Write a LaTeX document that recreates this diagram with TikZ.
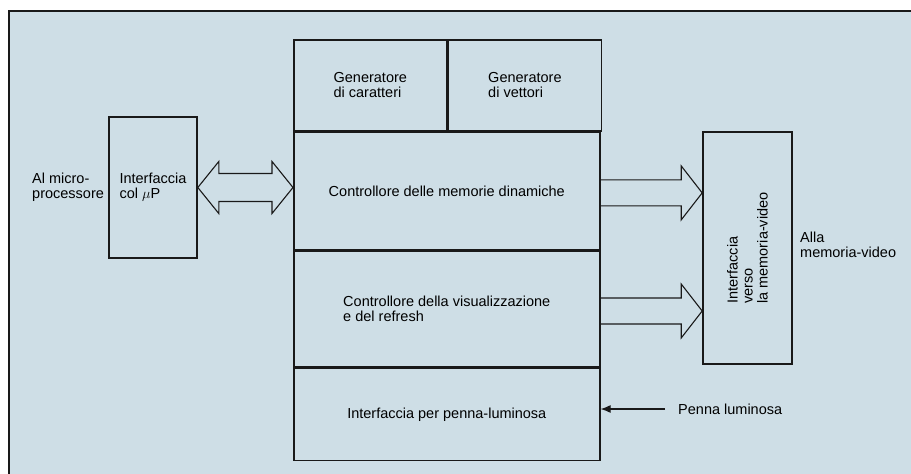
\documentclass[tikz,border=0pt]{standalone}
\usepackage{fontspec}
\setmainfont{Liberation Sans}
\usepackage{tikz}
\usetikzlibrary{arrows.meta,calc,positioning}
\definecolor{panel}{RGB}{206,222,230}
\definecolor{ink}{RGB}{25,25,25}

\begin{document}
\begin{tikzpicture}[x=1pt,y=-1pt,
    font=\fontsize{14.5pt}{15pt}\selectfont,
    blk/.style={draw=ink,line width=1.6pt,inner sep=0pt,align=left},
    bus/.style={draw=ink,line width=1.1pt,line join=miter},
    lbl/.style={inner sep=0pt,align=left,anchor=west}]
  \useasboundingbox (0,0) rectangle (911,474);
  % sfondo e cornice
  \fill[panel] (9,11) rectangle (911,474);
  \draw[ink,line width=1.5pt] (9,474) -- (9,11) -- (911,11);
  % blocco centrale
  \node[blk,minimum width=153,minimum height=91,anchor=north west]
    (gencar) at (293,39) {Generatore\\di caratteri};
  \node[blk,minimum width=153,minimum height=91,anchor=north west]
    (genvet) at (gencar.north east) {Generatore\\di vettori};
  \node[blk,minimum width=306,minimum height=117,anchor=north west]
    (ctrlmem) at (gencar.south west) {Controllore delle memorie dinamiche};
  \node[blk,minimum width=306,minimum height=116,anchor=north west]
    (ctrlvis) at (ctrlmem.south west) {Controllore della visualizzazione\\e del refresh};
  \node[blk,minimum width=306,minimum height=92,anchor=north west]
    (penif) at (ctrlvis.south west) {Interfaccia per penna-luminosa};
  % interfacce laterali
  \node[blk,minimum width=88,minimum height=141] (upif) at (153,187.5)
    {Interfaccia\\col $\mu$P};
  \node[blk,minimum width=89,minimum height=232] (vidif) at (747.5,248) {};
  \node[rotate=90,align=left,inner sep=0pt] at (vidif.center)
    {Interfaccia\\verso\\la memoria-video};
  % etichette esterne
  \node[lbl] (micro) at (32,187) {Al micro-\\processore};
  \node[lbl] (alla) at (800,245) {Alla\\memoria-video};
  \node[lbl,inner xsep=13pt] (penna) at (665,409) {Penna luminosa};
  % bus bidirezionale col microprocessore
  \coordinate (bl) at (upif.east);
  \coordinate (br) at (upif.east -| ctrlmem.west);
  \draw[bus] (bl) -- ($(bl)+(21,-26)$) -- ($(bl)+(21,-14)$)
    -- ($(br)+(-21,-14)$) -- ($(br)+(-21,-26)$) -- (br)
    -- ($(br)+(-21,26)$) -- ($(br)+(-21,14)$)
    -- ($(bl)+(21,14)$) -- ($(bl)+(21,26)$) -- cycle;
  % bus verso la memoria-video
  \foreach \src in {ctrlmem,ctrlvis} {
    \coordinate (s) at ($(\src.east)+(0,2)$);
    \coordinate (t) at (s -| vidif.west);
    \draw[bus] ($(s)+(0,-13)$) -- ($(t)+(-21,-13)$) -- ($(t)+(-21,-27)$)
      -- (t) -- ($(t)+(-21,27)$) -- ($(t)+(-21,13)$) -- ($(s)+(0,13)$);
  }
  % penna luminosa
  \draw[ink,line width=1.1pt,-{Latex[length=10pt,width=8pt]}]
    (penna.west) -- (penna.west -| penif.east);
\end{tikzpicture}
\end{document}
